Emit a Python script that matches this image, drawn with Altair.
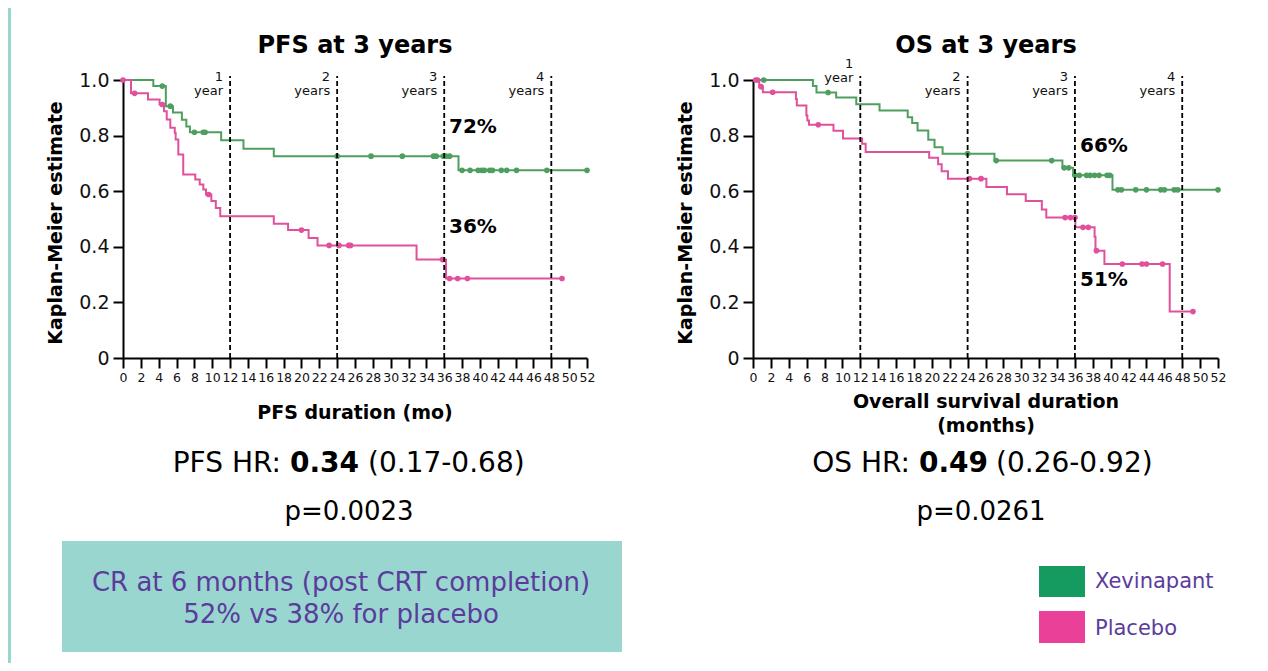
import altair as alt
import pandas as pd

FONT = "DejaVu Sans"
groups = ["Xevinapant", "Placebo"]
line_colors = ["#4E9F5F", "#E0509B"]
legend_colors = ["#159A5F", "#EA4098"]
purple = "#5B3C9C"
teal = "#99D6D0"

# ---------- PFS (months, survival after each drop) ----------
pfs_xev_t = [0, 3.4, 4.8, 5.6, 6.6, 7.1, 7.5, 11.0, 13.5, 16.9, 37.6]
pfs_xev_s = [1.0, 0.978, 0.906, 0.883, 0.857, 0.833, 0.812, 0.783, 0.753, 0.726, 0.675]
pfs_xev_cens = [4.4, 5.3, 8.0, 9.0, 9.2, 24.0, 27.8, 31.3, 34.8, 35.1, 35.9, 36.2, 36.6,
                38.0, 38.9, 39.8, 40.2, 40.5, 41.1, 41.4, 42.4, 43.0, 44.1, 47.5, 52.0]
pfs_pla_t = [0, 0.9, 2.8, 4.1, 4.6, 4.9, 5.3, 5.8, 5.9, 6.2, 6.75, 8.1, 8.6, 9.0, 9.3, 9.9,
             10.4, 10.9, 16.9, 18.5, 20.8, 21.8, 32.9, 36.2]
pfs_pla_s = [1.0, 0.952, 0.93, 0.912, 0.888, 0.858, 0.828, 0.81, 0.786, 0.732, 0.66, 0.642,
             0.624, 0.606, 0.588, 0.565, 0.54, 0.51, 0.483, 0.46, 0.432, 0.405, 0.354, 0.286]
pfs_pla_cens = [0, 1.3, 4.4, 9.6, 20.0, 23.1, 24.2, 25.3, 25.5, 35.8, 36.6, 37.5, 38.6, 49.2]

# ---------- OS ----------
os_xev_t = [0, 6.7, 7.1, 9.3, 11.55, 14.15, 17.3, 17.8, 18.4, 19.6, 20.3, 21.2, 27.0, 34.6, 35.8, 40.2]
os_xev_s = [1.0, 0.978, 0.955, 0.937, 0.913, 0.89, 0.866, 0.845, 0.818, 0.785, 0.758, 0.735,
            0.71, 0.684, 0.657, 0.605]
os_xev_cens = [1.2, 8.4, 24.0, 27.2, 33.4, 34.8, 35.3, 36.0, 36.5, 37.3, 37.7, 38.2, 38.7,
               39.6, 39.9, 40.8, 41.2, 42.8, 44.0, 45.6, 46.0, 47.1, 47.5, 52.0]
os_pla_t = [0, 0.7, 1.1, 4.8, 4.9, 5.97, 6.08, 6.26, 9.0, 10.06, 12.2, 12.6, 19.7, 20.7, 21.1,
            21.8, 26.1, 28.4, 30.5, 32.3, 32.8, 36.05, 38.2, 38.3, 39.3, 46.6]
os_pla_s = [1.0, 0.976, 0.956, 0.932, 0.908, 0.872, 0.854, 0.839, 0.817, 0.79, 0.771, 0.741,
            0.72, 0.697, 0.672, 0.645, 0.615, 0.589, 0.565, 0.534, 0.505, 0.47, 0.436, 0.386,
            0.338, 0.167]
os_pla_cens = [0.3, 0.5, 0.9, 2.2, 7.3, 24.2, 25.5, 34.9, 35.5, 36.0, 36.9, 37.5, 38.4, 41.3,
               43.5, 44.0, 45.8, 49.2]

year_t = [12, 24, 36, 48]
year_num = ["1", "2", "3", "4"]
year_word = ["year", "years", "years", "years"]
x_ticks = list(range(0, 53, 2))
y_ticks = [0, 0.2, 0.4, 0.6, 0.8, 1.0]

H = 278


def step_at(ts, ss, t):
    v = ss[0]
    for ti, si in zip(ts, ss):
        if ti <= t:
            v = si
    return v


def km_frames(curves):
    rows_line, rows_pt = [], []
    for g, ts, ss, cens in curves:
        end = max(max(cens), ts[-1])
        for ti, si in zip(ts, ss):
            rows_line.append({"t": ti, "s": si, "g": g})
        rows_line.append({"t": end, "s": ss[-1], "g": g})
        for c in cens:
            rows_pt.append({"t": c, "s": step_at(ts, ss, c), "g": g})
    return pd.DataFrame(rows_line), pd.DataFrame(rows_pt)


def txt(text, x, y, size, bold=False, align="center", color="#000000", angle=None,
        baseline="middle"):
    kw = dict(fontSize=size, font=FONT, align=align, baseline=baseline, color=color,
              fontWeight="bold" if bold else "normal")
    if angle is not None:
        kw["angle"] = angle
    return alt.Chart(pd.DataFrame({"label": [text]})).mark_text(**kw).encode(
        x=alt.value(x), y=alt.value(y), text="label:N")


def box(x1, x2, y1, y2, color):
    return alt.Chart(pd.DataFrame({"a": [0]})).mark_rect(color=color).encode(
        x=alt.value(x1), x2=alt.value(x2), y=alt.value(y1), y2=alt.value(y2))


XS = alt.Scale(domain=[0, 52], nice=False, zero=False)
YS = alt.Scale(domain=[0, 1], nice=False)
CS = alt.Scale(domain=groups, range=line_colors)
AX_X = alt.Axis(values=x_ticks, title=None, grid=False, labelFontSize=12.5, tickSize=10,
                labelPadding=3, labelFlush=False, labelOverlap=False, labelAngle=0)
AX_Y = alt.Axis(values=y_ticks, title=None, grid=False, labelFontSize=19, tickSize=10,
                labelPadding=4,
                labelExpr="datum.value == 0 ? '0' : format(datum.value, '.1f')")


def xenc():
    return alt.X("t:Q", scale=XS, axis=AX_X)


def yenc():
    return alt.Y("s:Q", scale=YS, axis=AX_Y)


def km_panel(curves, one_year_raise):
    line_df, pt_df = km_frames(curves)
    lines = alt.Chart(line_df).mark_line(interpolate="step-after", strokeWidth=2).encode(
        x=xenc(), y=yenc(), color=alt.Color("g:N", scale=CS, legend=None))
    pts = alt.Chart(pt_df).mark_circle(size=32, opacity=1).encode(
        x=xenc(), y=yenc(), color=alt.Color("g:N", scale=CS, legend=None))
    ydf = pd.DataFrame({"t": year_t, "num": year_num, "word": year_word})
    rules = alt.Chart(ydf).mark_rule(strokeDash=[5, 3], strokeWidth=1.8, color="black").encode(
        x=xenc(), y=alt.value(H), y2=alt.value(-4))
    layers = [lines, pts, rules]
    for filt, raise_px in (("datum.t == 12", one_year_raise), ("datum.t != 12", 0)):
        base = alt.Chart(ydf).transform_filter(filt)
        layers.append(base.mark_text(font=FONT, fontSize=13, align="right",
                                     baseline="alphabetic", dx=-7, color="#111111").encode(
            x=xenc(), y=alt.value(1 + raise_px), text="num:N"))
        layers.append(base.mark_text(font=FONT, fontSize=13, align="right",
                                     baseline="alphabetic", dx=-7, color="#111111").encode(
            x=xenc(), y=alt.value(15 + raise_px), text="word:N"))
    return layers


left_layers = [box(-115, -112, -72, 583, teal)]
left_layers += km_panel([
    ("Xevinapant", pfs_xev_t, pfs_xev_s, pfs_xev_cens),
    ("Placebo", pfs_pla_t, pfs_pla_s, pfs_pla_cens),
], 0)
left_layers += [
    txt("72%", 326, 53, 20, bold=True, align="left", baseline="alphabetic"),
    txt("36%", 326, 153, 20, bold=True, align="left", baseline="alphabetic"),
    txt("PFS at 3 years", 232, -34, 24, bold=True),
    txt("PFS duration (mo)", 232, 333, 19, bold=True),
    txt("Kaplan-Meier estimate", -67, 143, 19, bold=True, angle=270),
    txt("PFS HR:", 158, 384, 28, align="right"),
    txt("0.34", 167, 384, 28, bold=True, align="left"),
    txt("(0.17-0.68)", 245, 384, 28, align="left"),
    txt("p=0.0023", 226, 432, 26),
    box(-61, 499, 461, 572, teal),
    txt("CR at 6 months (post CRT completion)", 218, 503, 26, color=purple),
    txt("52% vs 38% for placebo", 218, 535, 26, color=purple),
]

right_layers = km_panel([
    ("Xevinapant", os_xev_t, os_xev_s, os_xev_cens),
    ("Placebo", os_pla_t, os_pla_s, os_pla_cens),
], -13)
right_layers += [
    txt("66%", 327, 72, 20, bold=True, align="left", baseline="alphabetic"),
    txt("51%", 327, 206, 20, bold=True, align="left", baseline="alphabetic"),
    txt("OS at 3 years", 233, -34, 24, bold=True),
    txt("Overall survival duration", 233, 322, 19, bold=True),
    txt("(months)", 233, 346, 19, bold=True),
    txt("Kaplan-Meier estimate", -67, 143, 19, bold=True, angle=270),
    txt("OS HR:", 157, 384, 28, align="right"),
    txt("0.49", 166, 384, 28, bold=True, align="left"),
    txt("(0.26-0.92)", 243, 384, 28, align="left"),
    txt("p=0.0261", 228, 432, 26),
    box(286, 332, 486, 517, legend_colors[0]),
    box(286, 332, 531, 563, legend_colors[1]),
    txt(groups[0], 342, 502, 21, align="left", color=purple),
    txt(groups[1], 342, 549, 21, align="left", color=purple),
]

left = alt.layer(*left_layers).properties(width=464, height=H)
right = alt.layer(*right_layers).properties(width=465, height=H)

chart = alt.hconcat(left, right, spacing=166, bounds="flush").properties(
    padding=0, background="white"
).configure_view(stroke=None).configure_axis(
    domainColor="black", domainWidth=2, tickColor="black", tickWidth=2,
    labelFont=FONT, labelColor="#111111"
)

chart.save("out.html", embed_options={"renderer": "svg", "actions": False})
